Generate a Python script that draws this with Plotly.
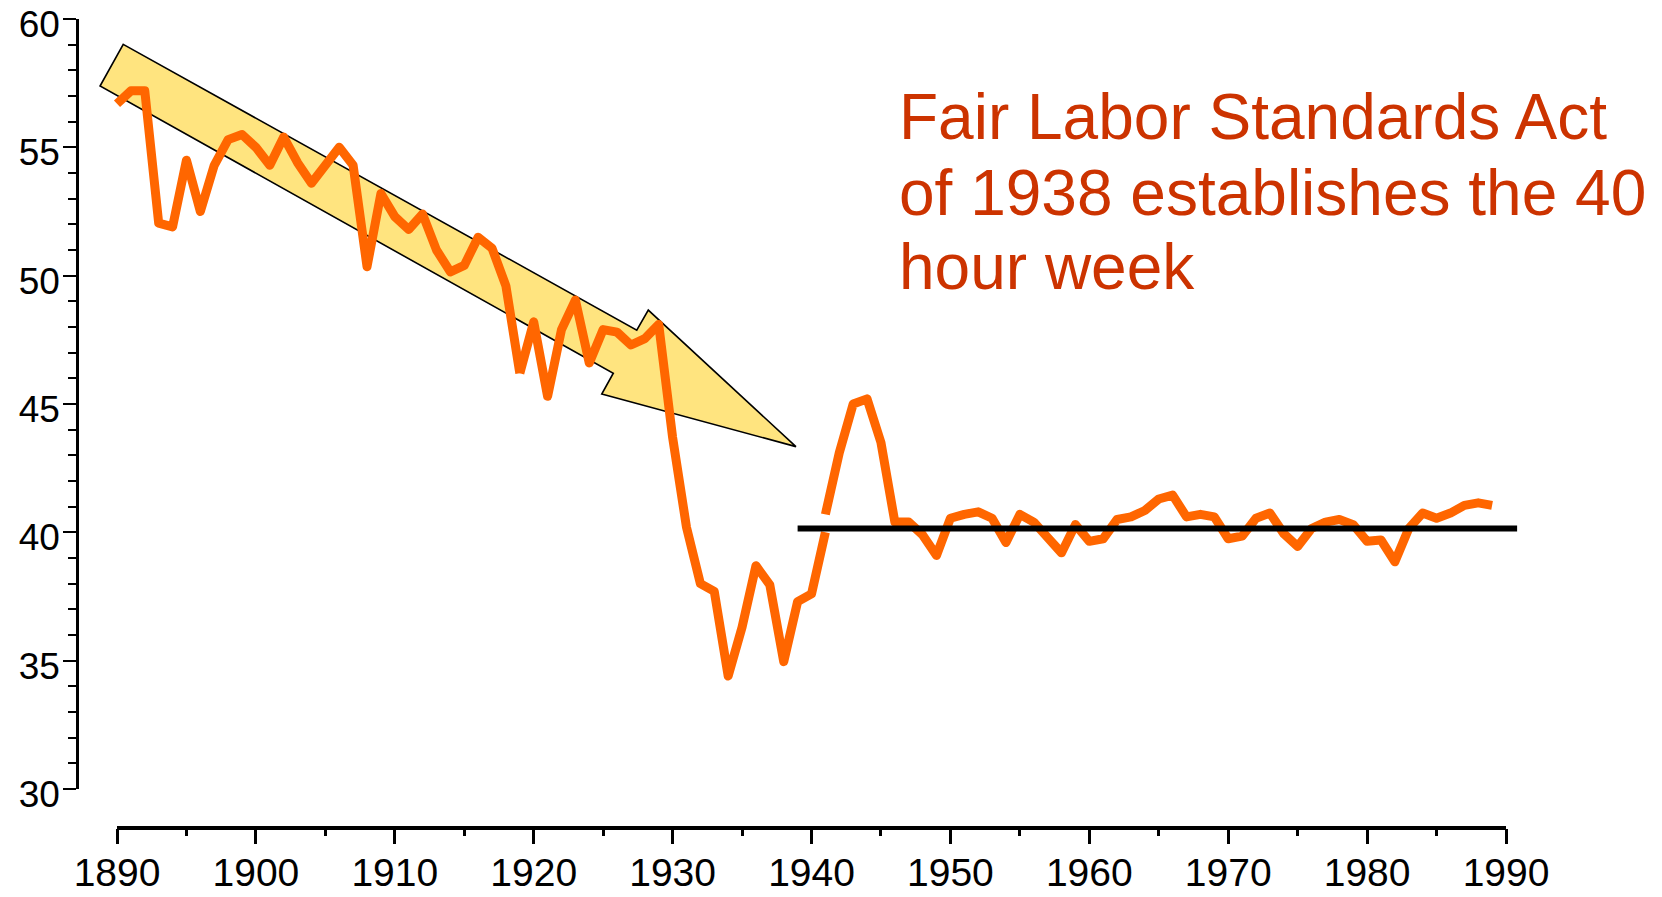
import plotly.graph_objects as go

# ---------------- data ----------------
# Average weekly hours, historical series (two pieces) and post-1941 series
years_a = list(range(1890, 1920))
hours_a = [56.7, 57.2, 57.2, 52.05, 51.9, 54.5, 52.5, 54.3, 55.3, 55.5,
           55.0, 54.3, 55.4, 54.4, 53.6, 54.3, 55.0, 54.3, 50.35, 53.2,
           52.3, 51.8, 52.4, 51.0, 50.15, 50.4, 51.5, 51.07, 49.6, 46.2]

years_b = list(range(1919, 1942))
hours_b = [46.2, 48.2, 45.3, 47.9, 49.05, 46.6, 47.9, 47.8, 47.3, 47.55,
           48.1, 43.7, 40.2, 38.0, 37.7, 34.4, 36.3, 38.7, 37.95, 34.96,
           37.3, 37.6, 40.0]

years_c = list(range(1941, 1990))
hours_c = [40.7, 43.1, 45.0, 45.2, 43.5, 40.4, 40.4, 39.9, 39.1, 40.55,
           40.7, 40.8, 40.55, 39.6, 40.7, 40.4, 39.8, 39.2, 40.3, 39.65,
           39.75, 40.5, 40.6, 40.85, 41.3, 41.45, 40.6, 40.7, 40.6, 39.75,
           39.85, 40.55, 40.75, 39.95, 39.45, 40.15, 40.4, 40.5, 40.3, 39.65,
           39.7, 38.85, 40.15, 40.75, 40.55, 40.75, 41.05, 41.15, 41.05]

# 40-hour reference line
ref_years = [1939, 1990.8]
ref_hours = [40.15, 40.15]

# Downward-trend arrow outline (year, hours)
arrow_years = [1890.45, 1927.42, 1928.25, 1938.88, 1924.90, 1925.73, 1888.78]
arrow_hours = [59.01, 47.88, 48.66, 43.34, 45.39, 46.20, 57.39]

x_ticks = list(range(1890, 2000, 10))
y_ticks = list(range(30, 65, 5))

note_lines = ["Fair Labor Standards Act", "of 1938 establishes the 40", "hour week"]

# ---------------- figure ----------------
W, H = 1662, 897
ORANGE = "#FF6600"
FONT = "Liberation Sans, Arial, sans-serif"

fig = go.Figure()

for xs, ys in [(years_a, hours_a), (years_b, hours_b), (years_c, hours_c)]:
    fig.add_trace(go.Scatter(x=xs, y=ys, mode="lines",
                             line=dict(color=ORANGE, width=9),
                             hoverinfo="skip", showlegend=False))

fig.add_trace(go.Scatter(x=ref_years, y=ref_hours, mode="lines",
                         line=dict(color="black", width=6),
                         hoverinfo="skip", showlegend=False))

path = "M " + " L ".join(f"{x},{y}" for x, y in zip(arrow_years, arrow_hours)) + " Z"
fig.add_shape(type="path", path=path, xref="x", yref="y", layer="below",
              fillcolor="#FFE47F", line=dict(color="black", width=1.6))

# pixel layout helpers
px_per_year = 13.89
x_left_px, x_right_px = 79, 1525
x0_year = 1890 - (117 - x_left_px) / px_per_year
x1_year = 1890 + (x_right_px - 117) / px_per_year
xaxis_y_px = 828

# x axis base line (1890-1990 only)
fig.add_shape(type="line", xref="x", yref="paper",
              x0=x_ticks[0], x1=x_ticks[-1],
              y0=1 - xaxis_y_px / H, y1=1 - xaxis_y_px / H,
              line=dict(color="black", width=4))

fig.update_layout(
    width=W, height=H,
    margin=dict(l=0, r=0, t=0, b=0),
    paper_bgcolor="white", plot_bgcolor="white",
    showlegend=False,
    xaxis=dict(
        domain=[x_left_px / W, x_right_px / W],
        range=[x0_year, x1_year],
        anchor="free", position=1 - xaxis_y_px / H,
        showline=False, showgrid=False, zeroline=False,
        tickmode="array", tickvals=x_ticks, ticktext=[str(t) for t in x_ticks],
        ticks="outside", ticklen=15, tickwidth=3, tickcolor="black",
        minor=dict(tickmode="array", tickvals=[t + 5 for t in x_ticks[:-1]],
                   ticks="outside", ticklen=7, tickwidth=3, tickcolor="black",
                   showgrid=False),
        tickfont=dict(family=FONT, size=39, color="black"),
        ticklabelstandoff=-5,
        ticklabeloverflow="allow",
        automargin=False,
    ),
    yaxis=dict(
        domain=[1 - 789 / H, 1 - 19 / H],
        range=[30, 60],
        anchor="x",
        showline=True, linewidth=2.5, linecolor="black",
        showgrid=False, zeroline=False,
        tickmode="array", tickvals=y_ticks,
        ticks="outside", ticklen=13, tickwidth=2, tickcolor="black",
        minor=dict(dtick=1, ticks="outside", ticklen=8, tickwidth=2,
                   tickcolor="black", showgrid=False),
        tickfont=dict(family=FONT, size=37, color="black"),
        ticklabelstandoff=-4,
        ticklabelshift=5,
        ticklabeloverflow="allow",
        automargin=False,
    ),
)

baselines_px = [139, 215, 289]
for txt, base in zip(note_lines, baselines_px):
    fig.add_annotation(text=txt, xref="paper", yref="paper",
                       x=897 / W, y=1 - (base - 22) / H,
                       xanchor="left", yanchor="middle", showarrow=False,
                       font=dict(family=FONT, size=64, color="#CC3300"))

post = ("var s=document.createElement('style');"
        "s.textContent='body{margin:0;} .js-line{stroke-linejoin:round;}';"
        "document.head.appendChild(s);")
fig.write_html("out.html", post_script=post, config={"displayModeBar": False})
